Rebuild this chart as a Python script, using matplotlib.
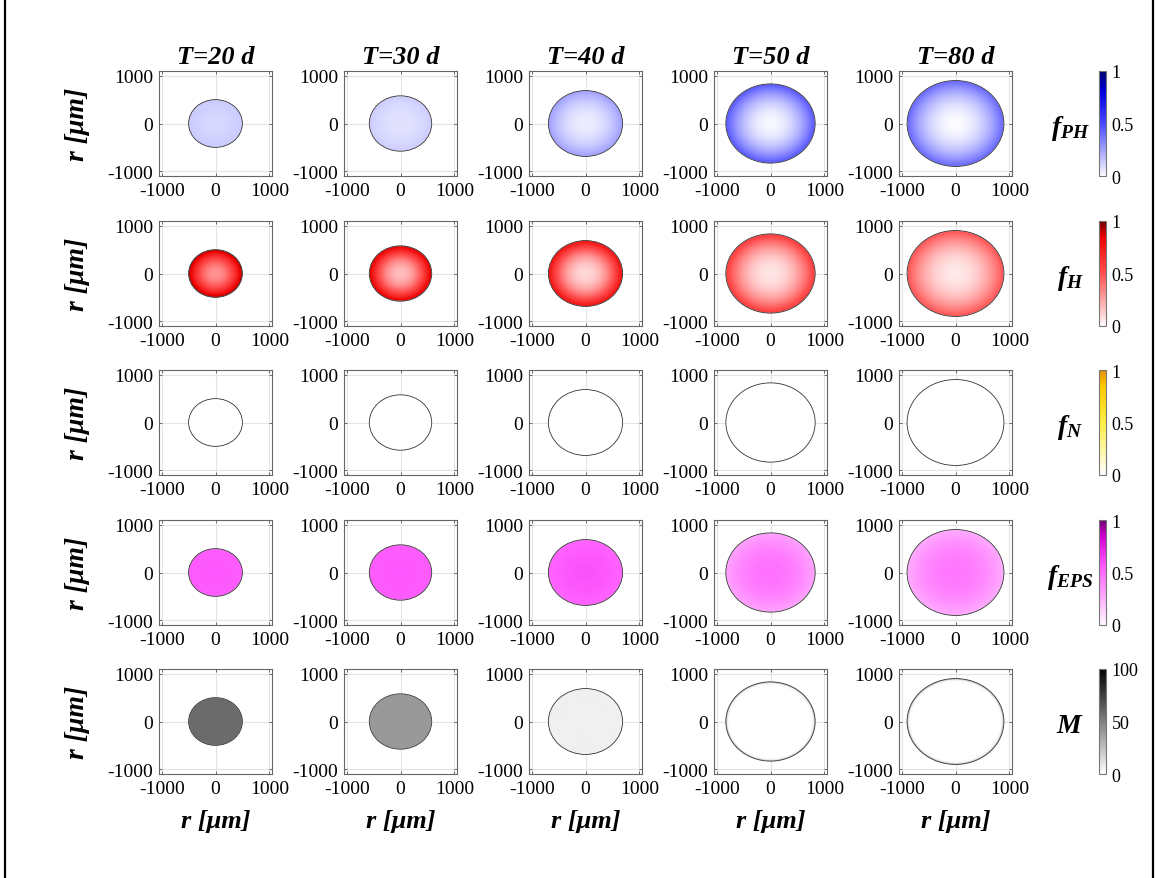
import numpy as np
import matplotlib
matplotlib.use("Agg")
import matplotlib.pyplot as plt
from matplotlib.colors import LinearSegmentedColormap
from matplotlib.patches import Circle
from matplotlib.lines import Line2D

plt.rcParams['font.family'] = ['Liberation Serif', 'DejaVu Serif']
plt.rcParams['mathtext.fontset'] = 'custom'
plt.rcParams['mathtext.it'] = 'Liberation Serif:bold:italic'
plt.rcParams['mathtext.rm'] = 'Liberation Serif:bold:italic'
plt.rcParams['axes.unicode_minus'] = False

# tiempos de simulacion y radio del tumor en cada uno
tiempos = [20, 30, 40, 50, 80]
radio = [500, 580, 690, 830, 900]  # um

# valor de cada campo en el centro y en el borde del esferoide
ph_centro = [0.10, 0.07, 0.04, 0.01, 0.00]
ph_borde = [0.14, 0.13, 0.26, 0.47, 0.42]
h_centro = [0.30, 0.18, 0.10, 0.06, 0.05]
h_borde = [0.95, 0.90, 0.80, 0.60, 0.50]
n_centro = [0.0, 0.0, 0.0, 0.0, 0.0]
n_borde = [0.0, 0.0, 0.0, 0.0, 0.0]
eps_centro = [0.56, 0.56, 0.58, 0.48, 0.46]
eps_borde = [0.55, 0.55, 0.52, 0.30, 0.27]
m_centro = [58, 40, 6, 0, 0]
m_borde = [58, 40, 6, 55, 55]
# que tan pegado al borde esta el cambio de cada campo
forma = {
    'PH': [2, 2, 2, 2, 2],
    'H': [2, 2, 2, 2, 2],
    'N': [2, 2, 2, 2, 2],
    'EPS': [2, 2, 2, 2, 2],
    'M': [2, 2, 2, 60, 60],
}

filas = [
    ('PH', ph_centro, ph_borde, r'$f_{PH}$', 1, ['0', '0.5', '1']),
    ('H', h_centro, h_borde, r'$f_{H}$', 1, ['0', '0.5', '1']),
    ('N', n_centro, n_borde, r'$f_{N}$', 1, ['0', '0.5', '1']),
    ('EPS', eps_centro, eps_borde, r'$f_{EPS}$', 1, ['0', '0.5', '1']),
    ('M', m_centro, m_borde, r'$M$', 100, ['0', '50', '100']),
]

mapas = {
    'PH': LinearSegmentedColormap.from_list('ph', [(0, '#fbfbff'), (0.5, '#4848ff'), (0.8, '#0000e0'), (1, '#000070')]),
    'H': LinearSegmentedColormap.from_list('h', [(0, '#fffafa'), (0.5, '#ff5050'), (0.85, '#ee0000'), (1, '#700000')]),
    'N': LinearSegmentedColormap.from_list('n', [(0, '#ffffff'), (0.5, '#ffee40'), (0.85, '#ffc800'), (1, '#e09000')]),
    'EPS': LinearSegmentedColormap.from_list('eps', [(0, '#fff8ff'), (0.55, '#ff5cff'), (0.85, '#d000d0'), (1, '#700070')]),
    'M': LinearSegmentedColormap.from_list('m', [(0, '#ffffff'), (1, '#000000')]),
}

W, H = 1157, 879
fig = plt.figure(figsize=(W / 100, H / 100), dpi=100)

# marco de la figura
fig.add_artist(Line2D([4.5 / W, 4.5 / W], [0, 1], transform=fig.transFigure, color='k', lw=1.6))
fig.add_artist(Line2D([1152.5 / W, 1152.5 / W], [0, 1], transform=fig.transFigure, color='k', lw=1.6))

x = np.linspace(-1100, 1100, 551)
X, Y = np.meshgrid(x, x)
rho = np.hypot(X, Y)

col_x = [159, 344, 529, 714, 899]
fila_y = [72, 222, 371, 521, 670]
ancho, alto = 113, 105

for i, (clave, centro, borde, etiqueta, vmax, ticks_txt) in enumerate(filas):
    for j, T in enumerate(tiempos):
        ax = fig.add_axes([col_x[j] / W, 1 - (fila_y[i] + alto) / H, ancho / W, alto / H])
        R = radio[j]
        campo = centro[j] + (borde[j] - centro[j]) * np.clip(rho / R, 0, 1) ** forma[clave][j]
        campo = np.ma.masked_where(rho > R, campo)
        cmap = mapas[clave].copy()
        cmap.set_bad((1, 1, 1, 0))
        ax.imshow(campo, extent=[-1100, 1100, -1100, 1100], origin='lower', cmap=cmap,
                  vmin=0, vmax=vmax, interpolation='bilinear', aspect='auto', zorder=1)
        ax.add_patch(Circle((0, 0), R, fill=False, ec='#333333', lw=0.6, zorder=2))
        ax.set_xlim(-1050, 1050)
        ax.set_ylim(-1100, 1100)
        ax.set_xticks([-1000, 0, 1000])
        ax.set_yticks([-1000, 0, 1000])
        ax.set_axisbelow(True)
        ax.grid(True, color='#e4e4e4', lw=0.8)
        ax.tick_params(direction='in', length=2.5, width=0.6, color='#555555',
                       top=True, right=True, labelsize=14, pad=4)
        for s in ax.spines.values():
            s.set_color('#666666')
            s.set_linewidth(0.8)
        if i == 0:
            ax.set_title(f'T={T} d', fontsize=19, fontweight='bold', fontstyle='italic', pad=6)
        if j == 0:
            ax.set_ylabel('r [μm]', fontsize=20, fontweight='bold', fontstyle='italic')
            ax.yaxis.set_label_coords(-0.61, 0.5)
        if i == len(filas) - 1:
            ax.set_xlabel('r [μm]', fontsize=19, fontweight='bold', fontstyle='italic')
            ax.xaxis.set_label_coords(0.5, -0.33)

    # barra de color de la fila
    cax = fig.add_axes([1099 / W, 1 - (fila_y[i] + alto) / H, 7 / W, alto / H])
    sm = plt.cm.ScalarMappable(cmap=mapas[clave], norm=plt.Normalize(0, vmax))
    cb = fig.colorbar(sm, cax=cax)
    cb.set_ticks([0, vmax / 2, vmax])
    cb.set_ticklabels(ticks_txt)
    cb.ax.tick_params(labelsize=13, length=0, pad=4)
    cb.outline.set_edgecolor('#777777')
    cb.outline.set_linewidth(0.8)
    fig.text(1070 / W, 1 - (fila_y[i] + alto / 2 + 4) / H, etiqueta, fontsize=20,
             ha='center', va='center')

fig.savefig('out.png', dpi=100)
